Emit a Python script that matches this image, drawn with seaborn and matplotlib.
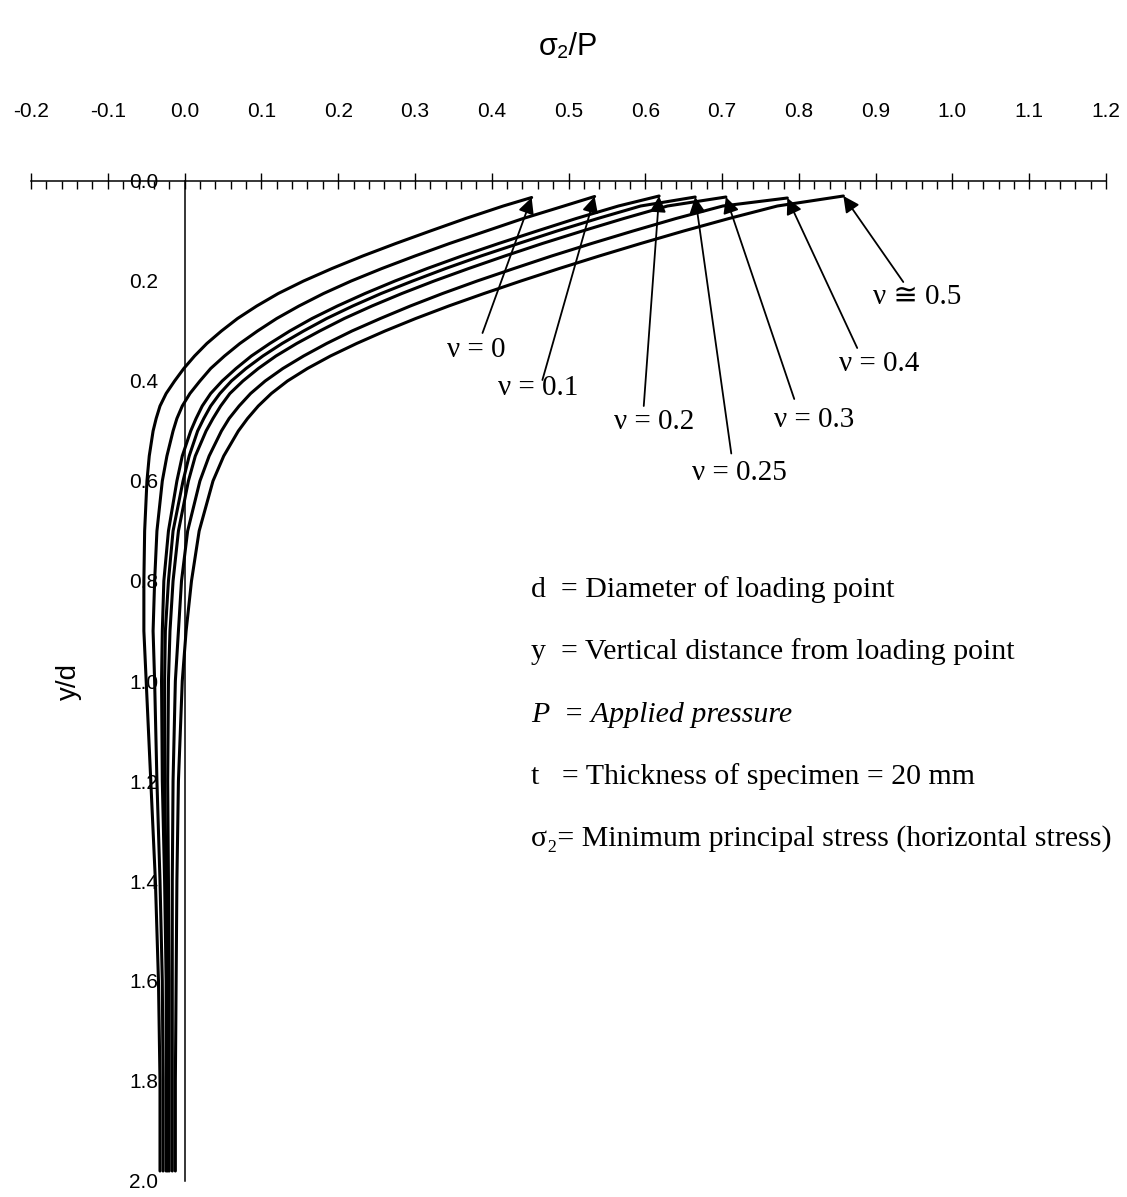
import numpy as np
import pandas as pd
import matplotlib
matplotlib.use("Agg")
import matplotlib.pyplot as plt
from matplotlib.ticker import MultipleLocator, FormatStrFormatter
import seaborn as sns

# Poisson's ratio of each curve and the label printed beside it
nu_values = ["0", "0.1", "0.2", "0.25", "0.3", "0.4", "0.5"]
nu_labels = ["ν = 0", "ν = 0.1", "ν = 0.2", "ν = 0.25", "ν = 0.3", "ν = 0.4", "ν ≅ 0.5"]

# upper end of each curve (sigma2/P, y/d)
top_sigma = [0.452, 0.534, 0.618, 0.665, 0.705, 0.785, 0.858]
top_depth = [0.033, 0.031, 0.030, 0.032, 0.032, 0.034, 0.030]

# depths y/d at which the curves are tabulated
depth = [0.05, 0.075, 0.1, 0.125, 0.15, 0.175, 0.2, 0.225, 0.25, 0.275, 0.3, 0.325,
         0.35, 0.375, 0.4, 0.425, 0.45, 0.475, 0.5, 0.55, 0.6, 0.7, 0.8, 0.9, 1.0,
         1.2, 1.4, 1.6, 1.8, 1.98]

# sigma2/P along depth for each Poisson's ratio
sigma_nu_0 = [0.415, 0.366, 0.320, 0.275, 0.232, 0.192, 0.155, 0.122, 0.094, 0.069, 0.048, 0.029,
              0.013, -0.001, -0.013, -0.024, -0.032, -0.037, -0.041, -0.046, -0.049, -0.052,
              -0.053, -0.053, -0.050, -0.044, -0.038, -0.034, -0.032, -0.032]
sigma_nu_01 = [0.494, 0.441, 0.393, 0.345, 0.300, 0.257, 0.217, 0.181, 0.149, 0.120, 0.095, 0.072,
               0.052, 0.034, 0.020, 0.007, -0.003, -0.010, -0.015, -0.023, -0.029, -0.036,
               -0.039, -0.041, -0.039, -0.036, -0.032, -0.029, -0.028, -0.028]
sigma_nu_02 = [0.565, 0.510, 0.459, 0.409, 0.361, 0.316, 0.274, 0.235, 0.199, 0.166, 0.137, 0.111,
               0.087, 0.067, 0.049, 0.034, 0.023, 0.015, 0.008, -0.003, -0.010, -0.021,
               -0.027, -0.029, -0.030, -0.029, -0.026, -0.024, -0.024, -0.024]
sigma_nu_025 = [0.594, 0.538, 0.485, 0.435, 0.386, 0.340, 0.297, 0.256, 0.219, 0.185, 0.155, 0.127,
                0.102, 0.080, 0.061, 0.046, 0.034, 0.025, 0.017, 0.006, -0.002, -0.015,
                -0.021, -0.025, -0.026, -0.026, -0.024, -0.022, -0.022, -0.022]
sigma_nu_03 = [0.629, 0.572, 0.518, 0.466, 0.417, 0.370, 0.325, 0.283, 0.244, 0.208, 0.176, 0.146,
               0.119, 0.096, 0.076, 0.059, 0.047, 0.037, 0.028, 0.014, 0.005, -0.008,
               -0.015, -0.019, -0.021, -0.022, -0.021, -0.020, -0.020, -0.020]
sigma_nu_04 = [0.701, 0.640, 0.584, 0.530, 0.478, 0.429, 0.381, 0.336, 0.294, 0.255, 0.218, 0.185,
               0.155, 0.128, 0.105, 0.086, 0.071, 0.058, 0.048, 0.032, 0.020, 0.004,
               -0.004, -0.008, -0.012, -0.015, -0.016, -0.016, -0.016, -0.016]
sigma_nu_05 = [0.772, 0.709, 0.650, 0.594, 0.540, 0.488, 0.438, 0.390, 0.344, 0.301, 0.261, 0.224,
               0.190, 0.160, 0.134, 0.113, 0.096, 0.082, 0.070, 0.051, 0.037, 0.019,
               0.009, 0.002, -0.003, -0.008, -0.010, -0.011, -0.012, -0.012]

series = [sigma_nu_0, sigma_nu_01, sigma_nu_02, sigma_nu_025, sigma_nu_03, sigma_nu_04, sigma_nu_05]

# tail of each pointer arrow and anchor of its label (data units)
arrow_tails = [(0.388, 0.304), (0.466, 0.398), (0.598, 0.450), (0.712, 0.545),
               (0.794, 0.436), (0.876, 0.334), (0.936, 0.202)]
label_pos = [(0.380, 0.338), (0.460, 0.414), (0.612, 0.482), (0.722, 0.584),
             (0.820, 0.478), (0.905, 0.366), (0.954, 0.232)]

notes = [
    ("d  = Diameter of loading point", "normal"),
    ("y  = Vertical distance from loading point", "normal"),
    ("P  = Applied pressure", "italic"),
    ("t   = Thickness of specimen = 20 mm", "normal"),
    ("σ₂= Minimum principal stress (horizontal stress)", "normal"),
]
notes_x = 0.451
notes_y = [0.818, 0.942, 1.068, 1.192, 1.316]

rows = []
for nu, ts, td, xs in zip(nu_values, top_sigma, top_depth, series):
    rows.append((nu, 0, ts, td))
    for i, (x, y) in enumerate(zip(xs, depth)):
        rows.append((nu, i + 1, x, y))
df = pd.DataFrame(rows, columns=["nu", "order", "sigma", "depth"])

sns.set_style("white")
plt.rcParams["font.family"] = ["Liberation Sans", "DejaVu Sans"]
plt.rcParams["axes.unicode_minus"] = False
for key in ("text.color", "axes.labelcolor", "xtick.color", "ytick.color"):
    plt.rcParams[key] = "black"

fig = plt.figure(figsize=(11.27, 11.97), dpi=100)
ax = fig.add_axes([31 / 1127, 1 - 1181 / 1197, 1075 / 1127, 1000 / 1197])

sns.lineplot(data=df, x="sigma", y="depth", hue="nu", units="nu", estimator=None,
             sort=False, palette=["black"] * len(nu_values), linewidth=2.2,
             legend=False, ax=ax)

ax.set_xlim(-0.2, 1.2)
ax.set_ylim(2.0, 0.0)

# axes: x along the top edge, y through sigma = 0
for side in ("right", "bottom"):
    ax.spines[side].set_visible(False)
ax.spines["top"].set_linewidth(1.1)
ax.spines["left"].set_position(("data", 0.0))
ax.spines["left"].set_linewidth(1.1)
ax.spines["top"].set_color("black")
ax.spines["left"].set_color("black")

ax.xaxis.tick_top()
ax.xaxis.set_label_position("top")
ax.xaxis.set_major_locator(MultipleLocator(0.1))
ax.xaxis.set_minor_locator(MultipleLocator(0.02))
ax.yaxis.set_major_locator(MultipleLocator(0.2))
ax.yaxis.set_minor_locator(MultipleLocator(0.1))
ax.xaxis.set_major_formatter(FormatStrFormatter("%.1f"))
ax.yaxis.set_major_formatter(FormatStrFormatter("%.1f"))

ax.tick_params(axis="x", which="major", direction="inout", length=12, width=1.0,
               pad=37, labelsize=15)
ax.tick_params(axis="x", which="minor", direction="in", length=6, width=1.0)
ax.tick_params(axis="y", which="major", direction="inout", length=14, width=1.0,
               pad=12, labelsize=15)
ax.tick_params(axis="y", which="minor", direction="in", length=8, width=1.0)

ax.set_xlabel("σ₂/P", fontsize=22, labelpad=34)
ax.set_ylabel("y/d", fontsize=20, labelpad=34)

serif = ["Liberation Serif", "DejaVu Serif", "DejaVu Sans"]

# pointer arrows from each label to the upper end of its curve
for ts, td, tail, lp, lab in zip(top_sigma, top_depth, arrow_tails, label_pos, nu_labels):
    ax.annotate("", xy=(ts, td), xytext=tail,
                arrowprops=dict(arrowstyle="-|>", color="black", lw=1.3,
                                mutation_scale=24, shrinkA=0, shrinkB=0))
    ax.text(lp[0], lp[1], lab, family=serif, fontsize=21, ha="center", va="center")

for (txt, style), ny in zip(notes, notes_y):
    ax.text(notes_x, ny, txt, family=serif, fontsize=21.5, style=style,
            ha="left", va="center")

fig.savefig("out.png", dpi=100, facecolor="white")
